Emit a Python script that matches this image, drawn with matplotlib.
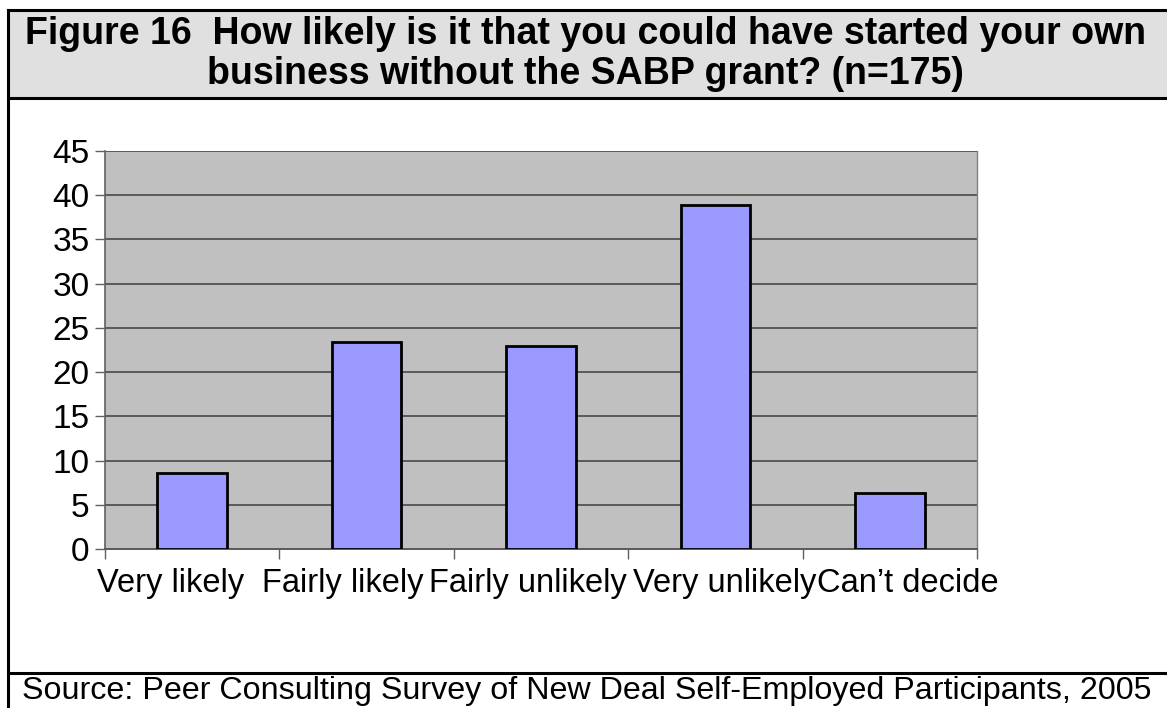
import matplotlib
matplotlib.use('Agg')
import matplotlib.pyplot as plt
from matplotlib.patches import Rectangle
from matplotlib.lines import Line2D
import numpy as np

plt.rcParams['font.family'] = ['Liberation Sans', 'DejaVu Sans']

# Survey answers, percent of respondents (n=175)
categories = ['Very likely', 'Fairly likely', 'Fairly unlikely', 'Very unlikely', 'Can\u2019t decide']
percent = [8.6, 23.4, 22.9, 38.9, 6.3]
y_ticks = [0, 5, 10, 15, 20, 25, 30, 35, 40, 45]

TITLE = ('Figure 16  How likely is it that you could have started your own\n'
         'business without the SABP grant? (n=175)')
SOURCE = 'Source: Peer Consulting Survey of New Deal Self-Employed Participants, 2005'

PLOT_BG = '#c0c0c0'
BAR_COLOR = '#9999ff'
GRID_COLOR = '#5a5a5a'
HEADER_BG = '#e0e0e0'

# long labels are nudged apart so neighbours don't collide (pixels)
LABEL_NUDGE = [-22, -24, -13, 9, 18]

W, H = 1167, 708
fig = plt.figure(figsize=(W / 100, H / 100), dpi=100, facecolor='white')

# --- outer frame with shaded header ---
def fx(px):
    return px / W

def fy(py):
    return 1 - py / H

fig.patches.append(Rectangle((fx(8), fy(98)), fx(1200) - fx(8), fy(10) - fy(98),
                             transform=fig.transFigure, facecolor=HEADER_BG,
                             edgecolor='none', zorder=0))
lw = 2.2
fig.lines.append(Line2D([fx(8), fx(8)], [fy(10), fy(720)], transform=fig.transFigure,
                        color='black', linewidth=lw))
for ypx in (10, 98, 673):
    fig.lines.append(Line2D([fx(8), 1.0], [fy(ypx), fy(ypx)], transform=fig.transFigure,
                            color='black', linewidth=lw))

fig.text(0.502, fy(54), TITLE, ha='center', va='center', fontsize=27,
         fontweight='bold', linespacing=1.16)
fig.text(fx(22), fy(691), SOURCE, ha='left', va='center', fontsize=23.2)

# --- bar chart ---
ax_left, ax_right = 105, 977
ax = fig.add_axes([fx(ax_left), fy(549), fx(ax_right) - fx(ax_left), fy(151) - fy(549)])
ax.set_facecolor(PLOT_BG)
x = np.arange(len(categories))
ax.bar(x, percent, width=0.4, color=BAR_COLOR, edgecolor='black', linewidth=2, zorder=3)

ax.set_xlim(-0.5, len(categories) - 0.5)
ax.set_ylim(0, 45)
ax.set_yticks(y_ticks)
ax.set_yticklabels([str(v) for v in y_ticks], fontsize=24)
ax.yaxis.grid(True, color=GRID_COLOR, linewidth=1.4, zorder=1)
ax.set_axisbelow(True)

# category labels sit between the boundary ticks
ax.set_xticks(np.arange(len(categories) + 1) - 0.5)
ax.set_xticklabels([])
px_per_cat = (ax_right - ax_left) / len(categories)
ax.set_xticks(x + np.array(LABEL_NUDGE) / px_per_cat, minor=True)
ax.set_xticklabels(categories, minor=True, fontsize=23.5)
ax.tick_params(axis='x', which='minor', length=0, pad=14)
ax.tick_params(axis='x', which='major', direction='out', length=7, color='#606060', width=1)
ax.tick_params(axis='y', direction='out', length=7, color='#606060', width=1, pad=4)

ax.spines['top'].set_visible(False)
ax.spines['left'].set_color('#606060')
ax.spines['left'].set_linewidth(1.2)
ax.spines['right'].set_color('#808080')
ax.spines['right'].set_linewidth(1.0)
ax.spines['bottom'].set_color(GRID_COLOR)
ax.spines['bottom'].set_linewidth(1.4)

fig.savefig('out.png', dpi=100, facecolor='white')
